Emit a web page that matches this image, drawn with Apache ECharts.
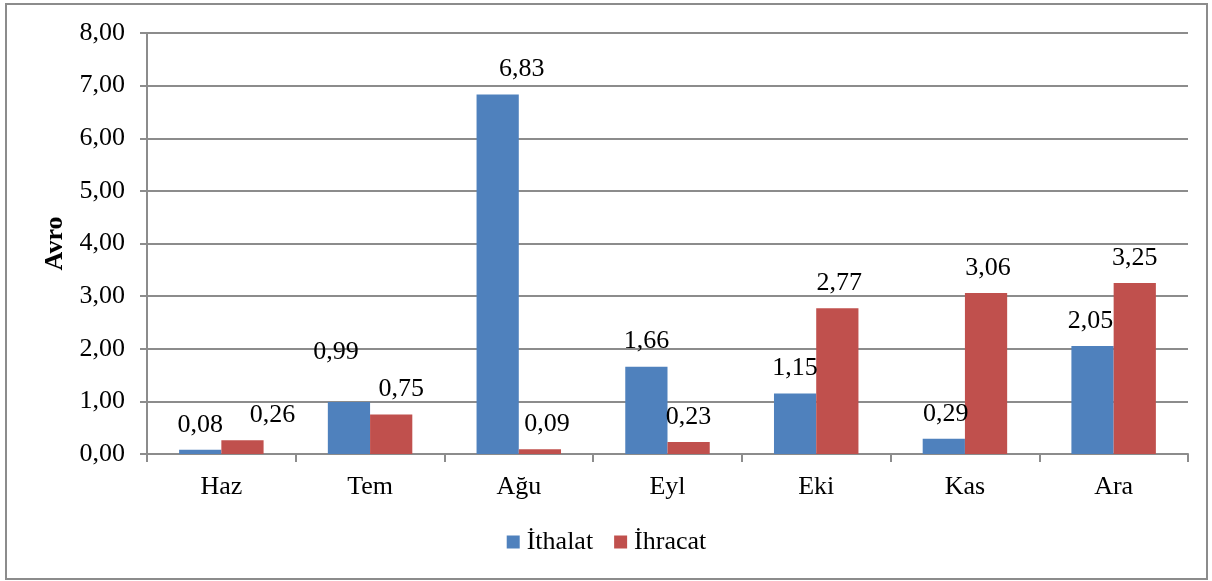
<!DOCTYPE html>
<html>
<head>
<meta charset="utf-8">
<script src="https://cdn.jsdelivr.net/npm/echarts@6/dist/echarts.min.js"></script>
<style>
html, body { margin: 0; padding: 0; background: #fff; }
#container { position: absolute; left: 5px; top: 3px; width: 1199px; height: 573px; border: 2px solid #8c8c8c; }
</style>
</head>
<body>
<div id="container"></div>
<script>
var months = ['Haz', 'Tem', 'Ağu', 'Eyl', 'Eki', 'Kas', 'Ara'];
var ithalat = [0.08, 0.99, 6.83, 1.66, 1.15, 0.29, 2.05];
var ihracat = [0.26, 0.75, 0.09, 0.23, 2.77, 3.06, 3.25];
// label nudges (px) so neighbouring labels don't collide, like the original
var ithalatShift = [[0, 0], [-13, -25], [24, 0], [0, 0], [0, 0], [2, 0], [-2, 0]];
var ihracatShift = [[30, 0], [10, 0], [7, 0], [0, 0], [2, 0], [2, 0], [0, 0]];

var fmt = function (v) { return v.toFixed(2).replace('.', ','); };
var font = '"Liberation Serif", "Times New Roman", serif';
var fs = 26;

function withShift(values, shifts) {
    return values.map(function (v, i) {
        return { value: v, label: { offset: shifts[i] } };
    });
}

var myChart = echarts.init(document.getElementById('container'));
var option = {
    animation: false,
    textStyle: { fontFamily: font },
    grid: { left: 140, right: 18, top: 28, bottom: 124, containLabel: false },
    legend: {
        bottom: 18,
        left: 'center',
        icon: 'rect',
        itemWidth: 13,
        itemHeight: 13,
        itemGap: 21,
        textStyle: { fontFamily: font, fontSize: fs, color: '#000', padding: [0, 0, 0, 2] },
        data: ['İthalat', 'İhracat']
    },
    xAxis: {
        type: 'category',
        data: months,
        axisLine: { lineStyle: { color: '#8c8c8c', width: 2 } },
        axisTick: { show: true, length: 8, lineStyle: { color: '#8c8c8c', width: 2 } },
        axisLabel: { color: '#000', fontSize: fs, fontFamily: font, margin: 20 }
    },
    yAxis: {
        type: 'value',
        min: 0,
        max: 8,
        interval: 1,
        name: 'Avro',
        nameLocation: 'middle',
        nameGap: 77,
        nameTextStyle: { fontFamily: font, fontSize: fs, fontWeight: 'bold', color: '#000' },
        axisLine: { show: true, lineStyle: { color: '#8c8c8c', width: 2 } },
        axisTick: { show: true, length: 7, lineStyle: { color: '#8c8c8c', width: 2 } },
        splitLine: { lineStyle: { color: '#8c8c8c', width: 2 } },
        axisLabel: { color: '#000', fontSize: fs, fontFamily: font, margin: 22, formatter: fmt }
    },
    series: [
        {
            name: 'İthalat',
            type: 'bar',
            data: withShift(ithalat, ithalatShift),
            barWidth: '28.4%',
            barGap: '0%',
            itemStyle: { color: '#4F81BD' },
            label: { show: true, position: 'top', distance: 12, color: '#000', fontSize: fs, fontFamily: font, formatter: function (p) { return fmt(p.value); } }
        },
        {
            name: 'İhracat',
            type: 'bar',
            data: withShift(ihracat, ihracatShift),
            barWidth: '28.4%',
            barGap: '0%',
            itemStyle: { color: '#C0504D' },
            label: { show: true, position: 'top', distance: 12, color: '#000', fontSize: fs, fontFamily: font, formatter: function (p) { return fmt(p.value); } }
        }
    ]
};
myChart.setOption(option, true);
</script>
</body>
</html>
